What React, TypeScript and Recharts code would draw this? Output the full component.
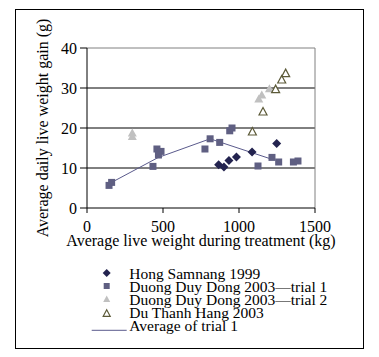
import React from 'react';
import { ScatterChart, Scatter, XAxis, YAxis, ReferenceLine, Label } from 'recharts';

const seriesNames = [
  'Hong Samnang 1999',
  'Duong Duy Dong 2003\u2014trial 1',
  'Duong Duy Dong 2003\u2014trial 2',
  'Du Thanh Hang 2003',
  'Average of trial 1',
];

const hongSamnang = [
  { x: 866, y: 10.8 }, { x: 901, y: 10.25 }, { x: 934, y: 11.9 },
  { x: 983, y: 12.75 }, { x: 1086, y: 14 }, { x: 1248, y: 16.15 },
];

const trial1 = [
  { x: 145, y: 5.65 }, { x: 162, y: 6.4 }, { x: 434, y: 10.4 },
  { x: 460, y: 14.75 }, { x: 487, y: 14.15 }, { x: 470, y: 13.25 },
  { x: 776, y: 14.75 }, { x: 810, y: 17.3 }, { x: 873, y: 16.4 },
  { x: 939, y: 19.3 }, { x: 954, y: 20 }, { x: 1125, y: 10.5 },
  { x: 1217, y: 12.65 }, { x: 1261, y: 11.5 }, { x: 1358, y: 11.5 },
  { x: 1388, y: 11.75 },
];

const trial2 = [
  { x: 298, y: 18.7 }, { x: 298, y: 17.8 }, { x: 1130, y: 27.2 },
  { x: 1150, y: 28.2 }, { x: 1200, y: 29.75 },
];

const duThanhHang = [
  { x: 1088, y: 19 }, { x: 1158, y: 24 }, { x: 1241, y: 29.6 },
  { x: 1281, y: 32 }, { x: 1307, y: 33.6 },
];

const avgTrial1 = [
  { x: 162, y: 6.4 }, { x: 467, y: 12.6 }, { x: 810, y: 17.3 },
  { x: 873, y: 16.5 }, { x: 1215, y: 12.2 },
];

const xTicks = [0, 500, 1000, 1500];
const yTicks = [0, 10, 20, 30, 40];
const gridValues = [10, 20, 30];

const FONT = '"Liberation Serif", "Times New Roman", serif';
const C_DIAMOND = '#23234f';
const C_SQUARE = '#5f5f82';
const C_GRAY = '#c0c0c0';
const C_OPEN = '#5c5a38';
const C_LINE = '#5a5a8c';

const Diamond = (cx: number, cy: number, r: number) => (
  <polygon points={`${cx},${cy - r} ${cx + r},${cy} ${cx},${cy + r} ${cx - r},${cy}`} fill={C_DIAMOND} />
);
const Square = (cx: number, cy: number, s: number) => (
  <rect x={cx - s / 2} y={cy - s / 2} width={s} height={s} fill={C_SQUARE} />
);
const Tri = (cx: number, cy: number, w: number, h: number, fill: string, stroke: string) => (
  <polygon
    points={`${cx},${cy - h * 0.6} ${cx + w / 2},${cy + h * 0.4} ${cx - w / 2},${cy + h * 0.4}`}
    fill={fill}
    stroke={stroke}
    strokeWidth={stroke === 'none' ? 0 : 1.2}
  />
);

export default function App() {
  const legendRows = [
    { baseline: 270.5, marker: Diamond(98.7, 265, 4) },
    { baseline: 283.5, marker: Square(98.7, 278, 6) },
    { baseline: 297, marker: Tri(98.7, 291.3, 7, 6.5, C_GRAY, 'none') },
    { baseline: 310, marker: Tri(98.7, 305.7, 7, 6.5, '#fff', C_OPEN) },
    { baseline: 323.3, marker: <line x1={83.7} x2={118.7} y1={322.3} y2={322.3} stroke={C_LINE} strokeWidth={1} /> },
  ];
  return (
    <div style={{ position: 'relative', width: 371, height: 349 }}>
      <div
        style={{
          position: 'absolute', left: 7, top: 1, width: 349, height: 340,
          border: '1px solid #000', boxSizing: 'border-box',
        }}
      />
      <ScatterChart width={371} height={349} margin={{ top: 40, right: 64, left: 0, bottom: 109 }}>
        {gridValues.map((v) => (
          <ReferenceLine key={v} y={v} stroke="#000" strokeWidth={1} />
        ))}
        <ReferenceLine y={40} stroke="#808080" strokeWidth={1} />
        <ReferenceLine x={1500} stroke="#808080" strokeWidth={1} />
        <XAxis
          type="number" dataKey="x" domain={[0, 1500]} ticks={xTicks}
          height={40} tickSize={5} tickMargin={8}
          axisLine={{ stroke: '#000' }} tickLine={{ stroke: '#000' }}
          tick={{ fill: '#000', fontSize: 16, fontFamily: FONT }}
        >
          <Label value="Average live weight during treatment (kg)" position="insideBottom" offset={2}
            style={{ fill: '#000', fontSize: 16, fontFamily: FONT }} />
        </XAxis>
        <YAxis
          type="number" dataKey="y" domain={[0, 40]} ticks={yTicks}
          width={79} tickSize={7} tickMargin={3}
          axisLine={{ stroke: '#000' }} tickLine={{ stroke: '#000' }}
          tick={{ fill: '#000', fontSize: 16, fontFamily: FONT }}
        >
          <Label value="Average daily live weight gain (g)" angle={-90} position="center" dx={-5}
            style={{ fill: '#000', fontSize: 16, fontFamily: FONT, textAnchor: 'middle' }} />
        </YAxis>
        <Scatter name={seriesNames[4]} data={avgTrial1} isAnimationActive={false}
          line={{ stroke: C_LINE, strokeWidth: 1 }} shape={() => <g />} />
        <Scatter name={seriesNames[1]} data={trial1} isAnimationActive={false}
          shape={(p: any) => Square(p.cx, p.cy, 7)} />
        <Scatter name={seriesNames[0]} data={hongSamnang} isAnimationActive={false}
          shape={(p: any) => Diamond(p.cx, p.cy, 4.5)} />
        <Scatter name={seriesNames[2]} data={trial2} isAnimationActive={false}
          shape={(p: any) => Tri(p.cx, p.cy, 9, 8, C_GRAY, 'none')} />
        <Scatter name={seriesNames[3]} data={duThanhHang} isAnimationActive={false}
          shape={(p: any) => Tri(p.cx, p.cy, 8, 7.5, '#fff', C_OPEN)} />
      </ScatterChart>
      <svg width={371} height={349} style={{ position: 'absolute', left: 0, top: 0, pointerEvents: 'none' }}>
        {legendRows.map((r, i) => (
          <g key={i}>
            {r.marker}
            <text x={121.3} y={r.baseline} fontSize={15.5} fontFamily={FONT} fill="#000">
              {seriesNames[i]}
            </text>
          </g>
        ))}
      </svg>
    </div>
  );
}
